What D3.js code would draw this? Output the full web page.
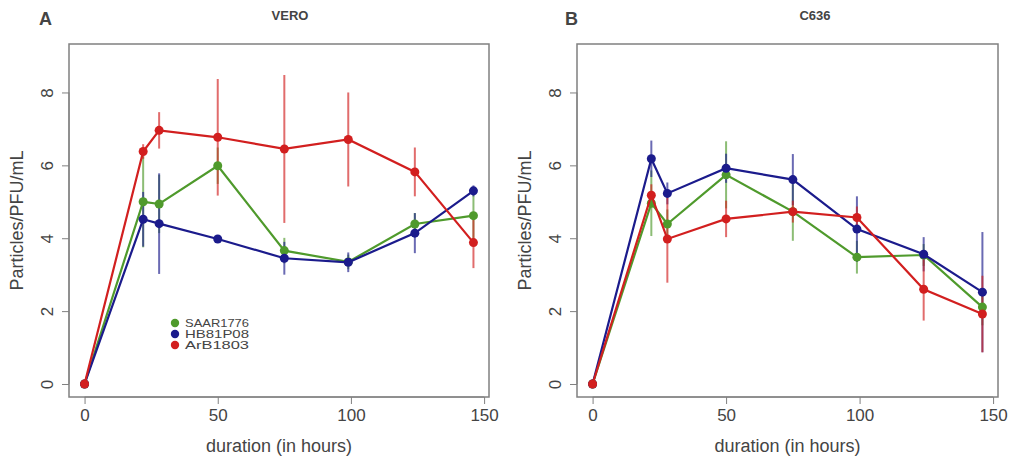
<!DOCTYPE html>
<html lang="en">
<head>
<meta charset="UTF-8">
<title>Particles/PFU/mL over time</title>
<script src="https://d3js.org/d3.v7.min.js"></script>
<style>
    body { margin: 0; background: #fff; font-family: "Liberation Sans", Arial, sans-serif; }
    svg text { fill: #444; }
</style>
</head>
<body>
<svg id="chart" width="1013" height="461"></svg>
<script>
    // sampling times (hours)
    const times = [0, 22, 28, 50, 75, 99, 124, 146];
    const xTicks = [0, 50, 100, 150];
    const yTicks = [0, 2, 4, 6, 8];
    const strains = ["SAAR1776", "HB81P08", "ArB1803"];
    const colors = ["#4f9a2c", "#1b1b8c", "#d21f1f"];

    // VERO cells
    const veroSaar = [0, 5.00, 4.94, 5.99, 3.66, 3.35, 4.39, 4.62];
    const veroSaarErr = [0, 1.25, 0.8, 0.5, 0.35, 0.2, 0.3, 0.7];
    const veroHb = [0, 4.52, 4.40, 3.98, 3.45, 3.34, 4.14, 5.30];
    const veroHbErr = [0, 0.75, 1.38, 0.08, 0.45, 0.27, 0.55, 0.15];
    const veroArb = [0, 6.38, 6.96, 6.77, 6.45, 6.71, 5.82, 3.88];
    const veroArbErr = [0, 0.2, 0.5, 1.6, 2.03, 1.29, 0.67, 0.7];

    // C636 cells
    const c636Saar = [0, 4.96, 4.39, 5.74, 4.73, 3.48, 3.54, 2.11];
    const c636SaarErr = [0, 0.9, 0.4, 0.92, 0.8, 0.45, 0.3, 0.5];
    const c636Hb = [0, 6.18, 5.23, 5.92, 5.61, 4.25, 3.56, 2.52];
    const c636HbErr = [0, 0.5, 0.3, 0.4, 0.7, 0.9, 0.47, 1.65];
    const c636Arb = [0, 5.18, 3.98, 4.53, 4.73, 4.57, 2.60, 1.92];
    const c636ArbErr = [0, 0.3, 1.2, 0.5, 0.3, 0.3, 0.86, 1.05];

    const svg = d3.select("#chart");

    function drawPanel(opt) {
        const x = d3.scaleLinear().domain([-5.84, 151.84]).range([opt.left, opt.right]);
        const y = d3.scaleLinear().domain([-0.357, 9.33]).range([397, 44]);
        const g = svg.append("g");

        // drawing order: green, blue, red on top
        const series = [
            { vals: opt.saar, err: opt.saarErr, col: colors[0] },
            { vals: opt.hb, err: opt.hbErr, col: colors[1] },
            { vals: opt.arb, err: opt.arbErr, col: colors[2] }
        ];

        series.forEach(s => {
            const pts = times.map((t, i) => ({ t, v: s.vals[i], e: s.err[i] }));
            g.append("g").selectAll("line")
                .data(pts.filter(d => d.e > 0))
                .join("line")
                .attr("x1", d => x(d.t)).attr("x2", d => x(d.t))
                .attr("y1", d => y(d.v - d.e)).attr("y2", d => y(d.v + d.e))
                .attr("stroke", s.col)
                .attr("stroke-width", 2)
                .attr("opacity", 0.65);
        });

        series.forEach(s => {
            const pts = times.map((t, i) => ({ t, v: s.vals[i] }));
            g.append("path")
                .datum(pts)
                .attr("fill", "none")
                .attr("stroke", s.col)
                .attr("stroke-width", 2.2)
                .attr("d", d3.line().x(d => x(d.t)).y(d => y(d.v)));
            g.append("g").selectAll("circle")
                .data(pts)
                .join("circle")
                .attr("cx", d => x(d.t))
                .attr("cy", d => y(d.v))
                .attr("r", 4.5)
                .attr("fill", s.col);
        });

        // box
        g.append("rect")
            .attr("x", opt.left).attr("y", 44)
            .attr("width", opt.right - opt.left).attr("height", 353)
            .attr("fill", "none").attr("stroke", "#808080").attr("stroke-width", 1.5);

        const xAxis = g.append("g")
            .attr("transform", "translate(0,397)")
            .call(d3.axisBottom(x).tickValues(xTicks).tickSize(7).tickPadding(5));
        xAxis.select(".domain").attr("d", `M${x(0)},0H${x(150)}`).attr("stroke", "#808080");
        xAxis.selectAll(".tick line").attr("stroke", "#808080");
        xAxis.selectAll("text").style("font-size", "17px").attr("fill", "#444");

        const yAxis = g.append("g")
            .attr("transform", `translate(${opt.left},0)`)
            .call(d3.axisLeft(y).tickValues(yTicks).tickSize(7));
        yAxis.select(".domain").attr("d", `M0,${y(0)}V${y(8)}`).attr("stroke", "#808080");
        yAxis.selectAll(".tick line").attr("stroke", "#808080");
        yAxis.selectAll("text")
            .attr("x", null).attr("dy", null)
            .attr("transform", "translate(-22,0) rotate(-90)")
            .attr("text-anchor", "middle")
            .attr("dominant-baseline", "central")
            .style("font-size", "17px").attr("fill", "#444");

        // labels
        g.append("text")
            .attr("x", (opt.left + opt.right) / 2).attr("y", 452)
            .attr("text-anchor", "middle")
            .style("font-size", "18px")
            .text("duration (in hours)");
        g.append("text")
            .attr("transform", `translate(${opt.left - 52},${(44 + 397) / 2}) rotate(-90)`)
            .attr("text-anchor", "middle")
            .attr("dominant-baseline", "central")
            .style("font-size", "18px")
            .text("Particles/PFU/mL");
        g.append("text")
            .attr("x", opt.titleX).attr("y", 20)
            .attr("text-anchor", "middle")
            .style("font-size", "13px").style("font-weight", "bold").attr("fill", "#222")
            .text(opt.title);
        g.append("text")
            .attr("x", opt.letterX).attr("y", 25)
            .style("font-size", "18px").style("font-weight", "bold").attr("fill", "#111")
            .text(opt.letter);

        return { x, y, g };
    }

    const pa = drawPanel({
        left: 69, right: 489, title: "VERO", titleX: 290, letter: "A", letterX: 39,
        saar: veroSaar, saarErr: veroSaarErr, hb: veroHb, hbErr: veroHbErr, arb: veroArb, arbErr: veroArbErr
    });
    drawPanel({
        left: 577, right: 998, title: "C636", titleX: 815, letter: "B", letterX: 565,
        saar: c636Saar, saarErr: c636SaarErr, hb: c636Hb, hbErr: c636HbErr, arb: c636Arb, arbErr: c636ArbErr
    });

    // legend inside panel A
    const legend = pa.g.append("g").attr("transform", "translate(175,323)");
    strains.forEach((name, i) => {
        legend.append("circle").attr("cx", 0).attr("cy", i * 11).attr("r", 4.2).attr("fill", colors[i]);
        legend.append("text")
            .attr("x", 10).attr("y", i * 11)
            .attr("dominant-baseline", "central")
            .attr("textLength", 64).attr("lengthAdjust", "spacingAndGlyphs")
            .style("font-size", "11px").attr("fill", "#666")
            .text(name);
    });
</script>
</body>
</html>
